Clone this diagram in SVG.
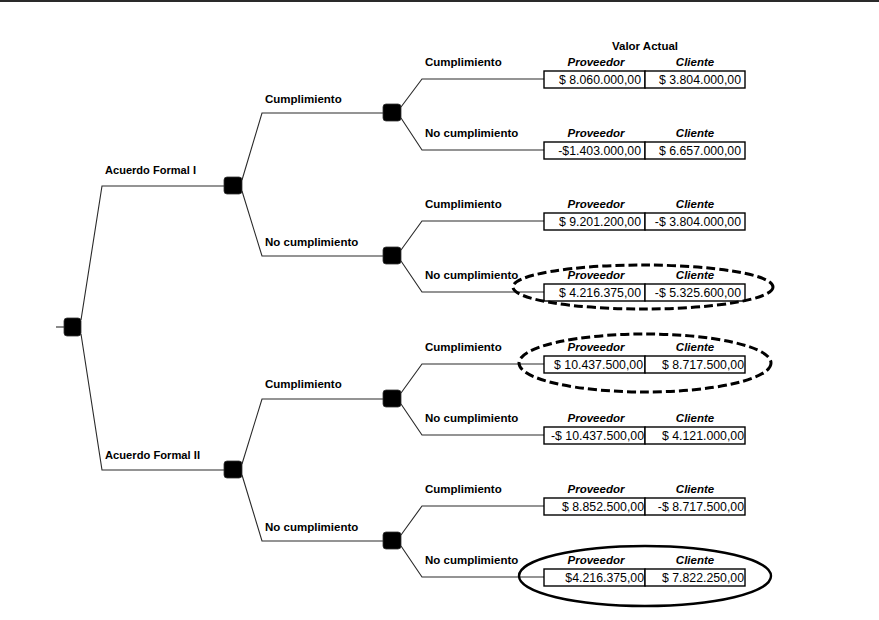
<svg xmlns="http://www.w3.org/2000/svg" width="879" height="620" viewBox="0 0 879 620">
<style>
.bg{fill:#fff}
.ln{fill:none;stroke:#2a2a2a;stroke-width:1.1}
.nd{fill:#000;stroke:#333;stroke-width:0.8}
.lb{font-family:"Liberation Sans",Arial,sans-serif;font-size:11.5px;font-weight:bold;fill:#000}
.hd{font-family:"Liberation Sans",Arial,sans-serif;font-size:11.5px;font-weight:bold;font-style:italic;fill:#000;text-anchor:middle}
.va{font-family:"Liberation Sans",Arial,sans-serif;font-size:12.3px;fill:#000;text-anchor:end}
.bx{fill:#fff;stroke:#000;stroke-width:1.4}
.dash{fill:none;stroke:#000;stroke-width:3;stroke-dasharray:9 4}
.sol{fill:none;stroke:#000;stroke-width:2.4}
</style>
<rect class="bg" x="0" y="0" width="879" height="620"/>
<line x1="0" y1="1" x2="879" y2="1" stroke="#2a2a2a" stroke-width="2"/>

<g id="connectors">
  <line class="ln" x1="56" y1="327" x2="64" y2="327" stroke="#777"/>
  <polyline class="ln" points="81,320 102,186 224,186"/>
  <polyline class="ln" points="81,334 102,470 224,470"/>
  <polyline class="ln" points="242,180 262,113 383,113"/>
  <polyline class="ln" points="242,191 262,256 383,256"/>
  <polyline class="ln" points="242,464 262,399 383,399"/>
  <polyline class="ln" points="242,475 262,541 383,541"/>
  <polyline class="ln" points="401,107 422,79 544,79"/>
  <polyline class="ln" points="401,118 422,150 544,150"/>
  <polyline class="ln" points="401,250 422,221 544,221"/>
  <polyline class="ln" points="401,261 422,292 544,292"/>
  <polyline class="ln" points="401,393 422,364 544,364"/>
  <polyline class="ln" points="401,404 422,435 544,435"/>
  <polyline class="ln" points="401,535 422,506 544,506"/>
  <polyline class="ln" points="401,546 422,577 544,577"/>
</g>

<g id="root"><rect class="nd" x="64" y="318" width="17" height="18" rx="3"/></g>

<g id="n1">
  <rect class="nd" x="224" y="177" width="18" height="17" rx="3"/>
  <text class="lb" x="105" y="174" textLength="91" lengthAdjust="spacingAndGlyphs">Acuerdo Formal I</text>
</g>
<g id="n2">
  <rect class="nd" x="224" y="461" width="18" height="17" rx="3"/>
  <text class="lb" x="105" y="459" textLength="95" lengthAdjust="spacingAndGlyphs">Acuerdo Formal II</text>
</g>

<g id="n1a">
  <rect class="nd" x="383" y="104" width="18" height="17" rx="3"/>
  <text class="lb" x="265" y="103">Cumplimiento</text>
</g>
<g id="n1b">
  <rect class="nd" x="383" y="247" width="18" height="17" rx="3"/>
  <text class="lb" x="265" y="246">No cumplimiento</text>
</g>
<g id="n2a">
  <rect class="nd" x="383" y="390" width="18" height="17" rx="3"/>
  <text class="lb" x="265" y="388">Cumplimiento</text>
</g>
<g id="n2b">
  <rect class="nd" x="383" y="532" width="18" height="17" rx="3"/>
  <text class="lb" x="265" y="531">No cumplimiento</text>
</g>

<text class="lb" x="645" y="50" text-anchor="middle">Valor Actual</text>

<g id="t1">
  <text class="lb" x="425" y="66">Cumplimiento</text>
  <text class="hd" x="596" y="66">Proveedor</text><text class="hd" x="695" y="66">Cliente</text>
  <rect class="bx" x="544" y="71" width="101" height="17"/><rect class="bx" x="645" y="71" width="100" height="17"/>
  <text class="va" x="641" y="84">$ 8.060.000,00</text><text class="va" x="741" y="84">$ 3.804.000,00</text>
</g>
<g id="t2">
  <text class="lb" x="425" y="137">No cumplimiento</text>
  <text class="hd" x="596" y="137">Proveedor</text><text class="hd" x="695" y="137">Cliente</text>
  <rect class="bx" x="544" y="142" width="101" height="17"/><rect class="bx" x="645" y="142" width="100" height="17"/>
  <text class="va" x="641" y="155">-$1.403.000,00</text><text class="va" x="741" y="155">$ 6.657.000,00</text>
</g>
<g id="t3">
  <text class="lb" x="425" y="208">Cumplimiento</text>
  <text class="hd" x="596" y="208">Proveedor</text><text class="hd" x="695" y="208">Cliente</text>
  <rect class="bx" x="544" y="213" width="101" height="17"/><rect class="bx" x="645" y="213" width="100" height="17"/>
  <text class="va" x="641" y="226">$ 9.201.200,00</text><text class="va" x="741" y="226">-$ 3.804.000,00</text>
</g>
<g id="t4">
  <text class="lb" x="425" y="279">No cumplimiento</text>
  <text class="hd" x="596" y="279">Proveedor</text><text class="hd" x="695" y="279">Cliente</text>
  <rect class="bx" x="544" y="284" width="101" height="17"/><rect class="bx" x="645" y="284" width="100" height="17"/>
  <text class="va" x="641" y="297">$ 4.216.375,00</text><text class="va" x="741" y="297">-$ 5.325.600,00</text>
  <ellipse class="dash" cx="643" cy="287" rx="130" ry="22"/>
</g>
<g id="t5">
  <text class="lb" x="425" y="351">Cumplimiento</text>
  <text class="hd" x="596" y="351">Proveedor</text><text class="hd" x="695" y="351">Cliente</text>
  <rect class="bx" x="544" y="356" width="101" height="17"/><rect class="bx" x="645" y="356" width="100" height="17"/>
  <text class="va" x="643" y="369">$ 10.437.500,00</text><text class="va" x="744" y="369">$ 8.717.500,00</text>
  <ellipse class="dash" cx="645" cy="363" rx="126" ry="29"/>
</g>
<g id="t6">
  <text class="lb" x="425" y="422">No cumplimiento</text>
  <text class="hd" x="596" y="422">Proveedor</text><text class="hd" x="695" y="422">Cliente</text>
  <rect class="bx" x="544" y="427" width="101" height="17"/><rect class="bx" x="645" y="427" width="100" height="17"/>
  <text class="va" x="644" y="440">-$ 10.437.500,00</text><text class="va" x="744" y="440">$ 4.121.000,00</text>
</g>
<g id="t7">
  <text class="lb" x="425" y="493">Cumplimiento</text>
  <text class="hd" x="596" y="493">Proveedor</text><text class="hd" x="695" y="493">Cliente</text>
  <rect class="bx" x="544" y="498" width="101" height="17"/><rect class="bx" x="645" y="498" width="100" height="17"/>
  <text class="va" x="644" y="511">$ 8.852.500,00</text><text class="va" x="744" y="511">-$ 8.717.500,00</text>
</g>
<g id="t8">
  <text class="lb" x="425" y="564">No cumplimiento</text>
  <text class="hd" x="596" y="564">Proveedor</text><text class="hd" x="695" y="564">Cliente</text>
  <rect class="bx" x="544" y="569" width="101" height="17"/><rect class="bx" x="645" y="569" width="100" height="17"/>
  <text class="va" x="644" y="582">$4.216.375,00</text><text class="va" x="744" y="582">$ 7.822.250,00</text>
  <ellipse class="sol" cx="645" cy="576" rx="126" ry="30"/>
</g>
</svg>
